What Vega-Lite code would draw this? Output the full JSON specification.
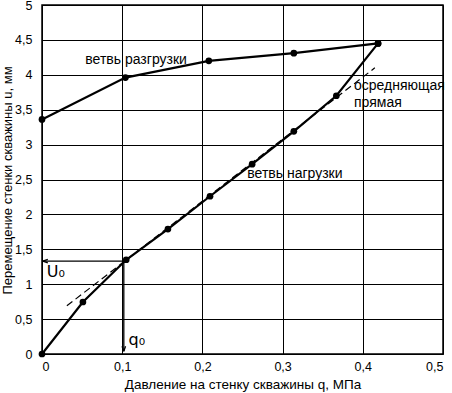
{
  "$schema": "https://vega.github.io/schema/vega-lite/v6.json",
  "width": 401,
  "height": 349,
  "autosize": "none",
  "padding": {"left": 42, "top": 5, "right": 9, "bottom": 39},
  "background": "white",
  "config": {
    "view": {"stroke": "black", "strokeWidth": 1.5},
    "font": "Liberation Sans",
    "axis": {
      "grid": true, "gridColor": "black", "gridOpacity": 1, "gridWidth": 1,
      "domain": false, "ticks": false, "labelOverlap": false,
      "labelFont": "Liberation Sans", "labelFontSize": 12.5, "labelColor": "black",
      "titleFont": "Liberation Sans", "titleFontSize": 13.5, "titleFontWeight": "normal", "titleColor": "black"
    }
  },
  "datasets": {
    "loading": [
      {"q": 0, "u": 0}, {"q": 0.051, "u": 0.745}, {"q": 0.105, "u": 1.35},
      {"q": 0.157, "u": 1.79}, {"q": 0.2095, "u": 2.26}, {"q": 0.262, "u": 2.72},
      {"q": 0.314, "u": 3.19}, {"q": 0.367, "u": 3.7}, {"q": 0.419, "u": 4.45}
    ],
    "unloading": [
      {"q": 0, "u": 3.36}, {"q": 0.104, "u": 3.96}, {"q": 0.208, "u": 4.2},
      {"q": 0.314, "u": 4.31}, {"q": 0.419, "u": 4.45}
    ],
    "avg": [{"q": 0.031, "u": 0.69}, {"q": 0.415, "u": 4.1}],
    "harrow": [{"q": 0.104, "u": 1.33}, {"q": 0.001, "u": 1.33}],
    "varrow": [{"q": 0.102, "u": 1.33}, {"q": 0.102, "u": 0.04}],
    "labels": [
      {"q": 0.054, "u": 4.21, "t": "ветвь разгрузки"},
      {"q": 0.256, "u": 2.58, "t": "ветвь нагрузки"},
      {"q": 0.389, "u": 3.84, "t": "осредняющая"},
      {"q": 0.389, "u": 3.6, "t": "прямая"}
    ],
    "sublabels": [
      {"q": 0.006, "u": 1.17, "t": "U₀"},
      {"q": 0.108, "u": 0.2, "t": "q₀"}
    ]
  },
  "encoding": {
    "x": {"field": "q", "type": "quantitative", "scale": {"domain": [0, 0.5], "nice": false},
      "axis": {"values": [0, 0.1, 0.2, 0.3, 0.4, 0.5], "labelExpr": "replace(toString(datum.value), '.', ',')", "title": "Давление на стенку скважины q, МПа", "labelPadding": 6, "titlePadding": 5}},
    "y": {"field": "u", "type": "quantitative", "scale": {"domain": [0, 5], "nice": false},
      "axis": {"values": [0, 0.5, 1, 1.5, 2, 2.5, 3, 3.5, 4, 4.5, 5], "labelExpr": "replace(toString(datum.value), '.', ',')", "title": "Перемещение стенки скважины u, мм", "titleFontSize": 13, "labelPadding": 10, "titlePadding": 0, "titleY": 175}}
  },
  "layer": [
    {
      "data": {"name": "avg"},
      "mark": {"type": "line", "color": "black", "strokeWidth": 1.2, "strokeDash": [7, 4]}
    },
    {
      "data": {"name": "loading"},
      "mark": {"type": "line", "color": "black", "strokeWidth": 2.2, "point": {"filled": true, "color": "black", "size": 45}}
    },
    {
      "data": {"name": "unloading"},
      "mark": {"type": "line", "color": "black", "strokeWidth": 2.2, "point": {"filled": true, "color": "black", "size": 45}}
    },
    {
      "data": {"name": "harrow"},
      "mark": {"type": "line", "color": "black", "strokeWidth": 1.3}
    },
    {
      "data": {"name": "varrow"},
      "mark": {"type": "line", "color": "black", "strokeWidth": 1.3}
    },
    {
      "data": {"name": "harrow"},
      "transform": [{"filter": "datum.q < 0.05"}],
      "mark": {"type": "point", "shape": "M0,0L2,-0.7M0,0L2,0.7", "filled": false, "stroke": "black", "strokeWidth": 1.3, "size": 25, "opacity": 1}
    },
    {
      "data": {"name": "varrow"},
      "transform": [{"filter": "datum.u < 0.5"}],
      "mark": {"type": "point", "shape": "M0,0L-0.7,-2M0,0L0.7,-2", "filled": false, "stroke": "black", "strokeWidth": 1.3, "size": 25, "opacity": 1}
    },
    {
      "data": {"name": "labels"},
      "mark": {"type": "text", "align": "left", "baseline": "middle", "fontSize": 14, "color": "black", "font": "Liberation Sans"},
      "encoding": {"text": {"field": "t"}}
    },
    {
      "data": {"name": "sublabels"},
      "mark": {"type": "text", "align": "left", "baseline": "middle", "fontSize": 16, "color": "black", "font": "DejaVu Sans"},
      "encoding": {"text": {"field": "t"}}
    }
  ]
}
